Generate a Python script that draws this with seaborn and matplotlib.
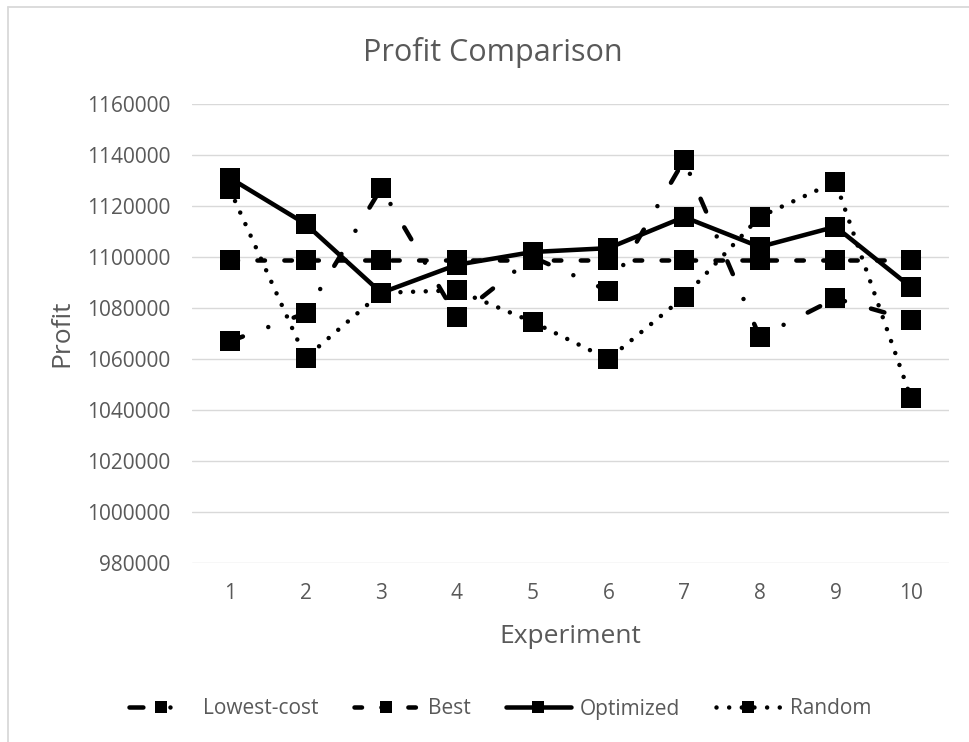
import matplotlib
matplotlib.use("Agg")
import matplotlib.pyplot as plt
from matplotlib.lines import Line2D
import seaborn as sns

# Profit per experiment for each allocation strategy
experiments = [1, 2, 3, 4, 5, 6, 7, 8, 9, 10]
lowest_cost = [1067000, 1078000, 1127000, 1076500, 1100000,
               1086800, 1138000, 1068700, 1083800, 1075300]
best = [1099000, 1099000, 1099000, 1099000, 1099000,
        1099000, 1099000, 1099000, 1099000, 1099000]
optimized = [1131000, 1113000, 1086000, 1097000, 1102000,
             1103500, 1115700, 1104000, 1111900, 1088200]
random_alloc = [1126500, 1060500, 1086000, 1087000, 1074600,
                1060000, 1084400, 1115800, 1129500, 1044600]
y_ticks = [980000, 1000000, 1020000, 1040000, 1060000, 1080000,
           1100000, 1120000, 1140000, 1160000]

series_names = ["Lowest-cost", "Best", "Optimized", "Random"]
series_values = [lowest_cost, best, optimized, random_alloc]

sns.set_style("white")
plt.rcParams["font.family"] = ["Open Sans", "DejaVu Sans"]
plt.rcParams["lines.dash_capstyle"] = "round"
plt.rcParams["lines.solid_capstyle"] = "round"
plt.rcParams["lines.dash_joinstyle"] = "round"
plt.rcParams["lines.solid_joinstyle"] = "round"
plt.rcParams["lines.scale_dashes"] = False

TEXT = "#595959"
GRID = "#d9d9d9"
W, H = 969, 742

# line patterns in points: long dash-dot, dash, solid, round dot
styles = {
    "Lowest-cost": (0, (10.0, 19.5, 0.01, 19.5)),
    "Best": (0, (5.4, 14.0)),
    "Optimized": "-",
    "Random": (0, (0.01, 9.1)),
}

fig = plt.figure(figsize=(W / 100, H / 100), dpi=100)
ax = fig.add_axes([192 / W, 1 - 563.3 / H, (949 - 192) / W, (563.3 - 104) / H])

for name, vals in zip(series_names, series_values):
    sns.lineplot(x=experiments, y=vals, ax=ax, color="black",
                 linewidth=3.25, linestyle=styles[name],
                 marker="s", markersize=14, markeredgewidth=0,
                 label=name, legend=False)

ax.set_xlim(0.5, 10.5)
ax.set_ylim(980000, 1160000)
ax.set_xticks(experiments)
ax.set_xticklabels([str(e) for e in experiments])
ax.set_yticks(y_ticks)
ax.set_yticklabels([str(v) for v in y_ticks])
ax.tick_params(axis="both", length=0, labelsize=15, labelcolor=TEXT)
ax.tick_params(axis="y", pad=15.5)
ax.tick_params(axis="x", pad=14)
ax.yaxis.grid(True, color=GRID, linewidth=1.0)
ax.xaxis.grid(False)
ax.set_axisbelow(True)
for s in ax.spines.values():
    s.set_visible(False)

ax.set_xlabel("Experiment", fontsize=19, color=TEXT, labelpad=14.5)
ax.set_ylabel("Profit", fontsize=19, color=TEXT, labelpad=9)

fig.text(493 / W, 1 - 53 / H, "Profit Comparison", ha="center", va="center",
         fontsize=22, color=TEXT)

handles = ax.get_lines()[:4]
leg = fig.legend(handles=handles, labels=series_names, loc="center",
                 bbox_to_anchor=(500 / W, 1 - 709 / H), ncol=4, frameon=False,
                 fontsize=15, handlelength=3.1, handletextpad=0.45,
                 columnspacing=1.7, markerscale=0.65)
for t in leg.get_texts():
    t.set_color(TEXT)

# chart area border
fig.add_artist(Line2D([8 / W, 8 / W], [0, 1 - 7 / H], color=GRID, lw=1.3))
fig.add_artist(Line2D([8 / W, 1], [1 - 7 / H, 1 - 7 / H], color=GRID, lw=1.3))

fig.savefig("out.png", dpi=100)
